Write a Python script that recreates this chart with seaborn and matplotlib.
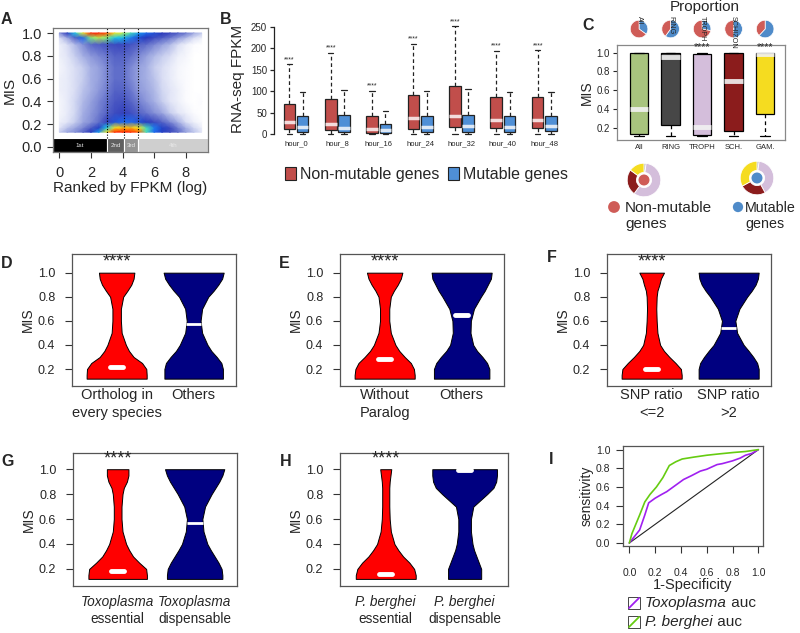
import numpy as np
import pandas as pd
import matplotlib
matplotlib.use("Agg")
import matplotlib.pyplot as plt
import seaborn as sns
from matplotlib.colors import LinearSegmentedColormap
from matplotlib.patches import Rectangle

# ======================= DATA =======================
# Panel A: estimated point density (rows = MIS levels top->bottom, cols = log FPKM)
a_x_centers = [0, 0.5, 1, 1.5, 2, 2.5, 3, 3.5, 4, 4.5, 5, 5.5, 6, 6.5, 7, 7.5, 8, 8.5, 9]
a_y_centers = [1.0, 0.96, 0.9, 0.8, 0.7, 0.6, 0.5, 0.4, 0.3, 0.22, 0.17, 0.13]
a_density = [
    [1.5, 3, 5, 7, 9, 9, 8.5, 7, 6.5, 5.5, 4.5, 4, 3.5, 3, 2.6, 2.2, 1.8, 1.2, 0.8],
    [0.6, 1.2, 2.2, 4, 6, 6.5, 6, 5, 4.8, 4.2, 3.5, 3, 2.5, 2.2, 1.8, 1.4, 1, 0.6, 0.3],
    [0.3, 0.6, 1, 1.5, 2, 2.2, 2.4, 2.6, 2.6, 2.4, 2.1, 1.9, 1.6, 1.3, 1, 0.6, 0.3, 0.1, 0],
    [0.3, 0.5, 0.8, 1.1, 1.4, 1.6, 1.8, 2.1, 2.1, 1.9, 1.6, 1.3, 1, 0.8, 0.6, 0.3, 0.2, 0, 0],
    [0.2, 0.4, 0.6, 0.8, 1.1, 1.3, 1.6, 1.9, 1.9, 1.6, 1.3, 1.1, 0.8, 0.6, 0.4, 0.2, 0.1, 0, 0],
    [0.3, 0.4, 0.6, 0.8, 1.1, 1.3, 1.6, 1.9, 1.9, 1.6, 1.3, 1.1, 0.9, 0.6, 0.4, 0.2, 0.1, 0, 0],
    [0.3, 0.4, 0.6, 0.9, 1.1, 1.4, 1.7, 2.1, 2.1, 1.8, 1.4, 1.2, 1, 0.7, 0.5, 0.3, 0.1, 0, 0],
    [0.2, 0.4, 0.7, 1, 1.3, 1.6, 1.9, 2.3, 2.4, 2.1, 1.7, 1.4, 1.1, 0.8, 0.5, 0.3, 0.1, 0, 0.1],
    [0.2, 0.4, 0.7, 1.1, 1.4, 1.7, 2.1, 2.5, 2.7, 2.5, 2.1, 1.8, 1.5, 1.2, 0.8, 0.5, 0.3, 0.1, 0],
    [0.3, 0.5, 0.8, 1.2, 1.5, 1.9, 2.7, 3.6, 4, 4, 3.6, 3.1, 2.6, 2.1, 1.6, 1.1, 0.6, 0.3, 0.1],
    [0.5, 0.9, 1.2, 1.6, 2.2, 3.2, 5, 7, 7.5, 7.5, 7, 5.5, 4.2, 3.3, 2.5, 1.7, 1.1, 0.7, 0.3],
    [0.8, 1.2, 1.5, 2, 3, 4.5, 7, 9, 9, 9, 8.5, 5.5, 4, 3.2, 2.5, 2, 1.3, 0.9, 0.5],
]
a_quartile_edges = [-0.4, 3.0, 4.1, 4.95, 9.4]
a_quartile_names = ["1st", "2nd", "3rd", "4th"]
a_xticks = [0, 2, 4, 6, 8]
a_yticks = [0.0, 0.2, 0.4, 0.6, 0.8, 1.0]

# Panel B: RNA-seq FPKM box statistics
b_hours = ["hour_0", "hour_8", "hour_16", "hour_24", "hour_32", "hour_40", "hour_48"]
b_non_q1 = [11, 8, 3, 12, 15, 13, 13]
b_non_med = [28, 24, 12, 36, 42, 33, 33]
b_non_q3 = [70, 81, 42, 92, 111, 86, 87]
b_non_hi = [163, 190, 100, 211, 252, 194, 196]
b_mut_q1 = [5, 4, 2, 4, 5, 5, 6]
b_mut_med = [17, 14, 8, 15, 18, 17, 18]
b_mut_q3 = [42, 45, 23, 42, 45, 43, 43]
b_mut_hi = [97, 103, 54, 100, 105, 97, 97]
b_lo = [0, 0, 0, 0, 0, 0, 0]
b_sig = ["****"] * 7
b_yticks = [0, 50, 100, 150, 200, 250]

# Panel C
c_stages = ["All", "RING", "TROPH", "SCH.", "GAM."]
c_q1 = [0.14, 0.23, 0.13, 0.17, 0.35]
c_med = [0.40, 0.95, 0.21, 0.70, 0.98]
c_q3 = [1.0, 1.0, 0.99, 1.0, 1.0]
c_lo = [0.12, 0.12, 0.12, 0.12, 0.12]
c_hi = [1.0, 1.0, 1.0, 1.0, 1.0]
c_sig = ["", "", "****", "", "****"]
c_pie_labels = ["All", "RING", "TROPH", "SCHIZON", ""]
c_pie_mutable = [35, 60, 28, 50, 62]
c_pie_nonmutable = [65, 40, 72, 50, 38]
c_donut_stages = ["RING", "TROPH", "SCH.", "GAM."]
c_donut_nonmutable = [2, 58, 25, 15]
c_donut_mutable = [2, 40, 25, 33]
c_yticks = [0.2, 0.4, 0.6, 0.8, 1.0]

# Panels D-H: violin half-widths at MIS levels
v_levels = [0.12, 0.15, 0.2, 0.25, 0.3, 0.35, 0.4, 0.5, 0.6, 0.7, 0.8, 0.85, 0.9, 0.95, 1.0]
d_red = [0.39, 0.39, 0.385, 0.33, 0.22, 0.16, 0.12, 0.065, 0.055, 0.055, 0.085, 0.14, 0.19, 0.22, 0.23]
d_blue = [0.38, 0.38, 0.38, 0.36, 0.30, 0.23, 0.18, 0.11, 0.09, 0.11, 0.19, 0.26, 0.32, 0.37, 0.39]
e_red = [0.39, 0.39, 0.38, 0.34, 0.26, 0.19, 0.14, 0.08, 0.06, 0.06, 0.08, 0.12, 0.17, 0.21, 0.23]
e_blue = [0.36, 0.36, 0.36, 0.33, 0.27, 0.20, 0.15, 0.115, 0.12, 0.16, 0.25, 0.30, 0.34, 0.38, 0.39]
f_red = [0.39, 0.39, 0.38, 0.31, 0.23, 0.16, 0.11, 0.075, 0.065, 0.06, 0.065, 0.075, 0.10, 0.12, 0.16]
f_blue = [0.39, 0.39, 0.39, 0.37, 0.32, 0.26, 0.195, 0.11, 0.087, 0.14, 0.24, 0.30, 0.35, 0.38, 0.39]
g_red = [0.38, 0.38, 0.37, 0.28, 0.20, 0.15, 0.11, 0.063, 0.05, 0.05, 0.063, 0.08, 0.12, 0.14, 0.14]
g_blue = [0.36, 0.36, 0.35, 0.31, 0.26, 0.21, 0.165, 0.115, 0.10, 0.135, 0.22, 0.27, 0.32, 0.36, 0.385]
h_red = [0.38, 0.38, 0.36, 0.30, 0.22, 0.16, 0.11, 0.065, 0.05, 0.045, 0.045, 0.045, 0.05, 0.06, 0.07]
h_blue = [0.21, 0.21, 0.21, 0.18, 0.15, 0.12, 0.10, 0.08, 0.08, 0.11, 0.285, 0.365, 0.40, 0.41, 0.41]
d_medians = [0.22, 0.57]
e_medians = [0.28, 0.65]
f_medians = [0.20, 0.54]
g_medians = [0.18, 0.57]
h_medians = [0.16, 0.995]
d_labels = [("Ortholog in", "every species"), ("Others", "")]
e_labels = [("Without", "Paralog"), ("Others", "")]
f_labels = [("SNP ratio", "<=2"), ("SNP ratio", ">2")]
g_labels = [("Toxoplasma", "essential"), ("Toxoplasma", "dispensable")]
h_labels = [("P. berghei", "essential"), ("P. berghei", "dispensable")]
v_yticks = [0.2, 0.4, 0.6, 0.8, 1.0]

# Panel I: ROC curves
i_pb_fpr = [0, 0.02, 0.044, 0.08, 0.12, 0.16, 0.21, 0.26, 0.31, 0.36, 0.41, 0.5, 0.6, 0.7, 0.81, 0.9, 1.0]
i_pb_tpr = [0, 0.1, 0.18, 0.3, 0.44, 0.52, 0.6, 0.7, 0.83, 0.87, 0.9, 0.92, 0.94, 0.955, 0.97, 0.98, 1.0]
i_tg_fpr = [0, 0.04, 0.08, 0.12, 0.15, 0.2, 0.25, 0.29, 0.35, 0.42, 0.48, 0.55, 0.6, 0.68, 0.72, 0.8, 0.86, 0.9, 0.95, 1.0]
i_tg_tpr = [0, 0.07, 0.14, 0.3, 0.43, 0.48, 0.52, 0.55, 0.61, 0.68, 0.72, 0.77, 0.79, 0.84, 0.85, 0.88, 0.91, 0.94, 0.96, 1.0]
i_ticks = [0.0, 0.2, 0.4, 0.6, 0.8, 1.0]

# ======================= STYLE =======================
sns.set_theme(style="ticks")
plt.rcParams["font.family"] = ["Liberation Sans", "DejaVu Sans"]
plt.rcParams["axes.linewidth"] = 0.9

RED_B, BLUE_B = "#c14e4b", "#4f8fd6"
RED_P, BLUE_P = "#cf5c57", "#4f8bc9"
STAGE_COLORS = ["#a8c47e", "#474747", "#d4bedb", "#8b1c1c", "#f5dc20"]
DONUT_COLORS = ["#8a8a8a", "#d4bedb", "#8b1c1c", "#f5dc20"]
V_RED, V_BLUE = "#ff0000", "#000080"
FRAME = "#555555"

W, H = 800, 633
fig = plt.figure(figsize=(W / 100, H / 100), dpi=100)


def ax_px(l, t, r, b):
    return fig.add_axes([l / W, 1 - b / H, (r - l) / W, (b - t) / H])


# ======================= PANEL A =======================
axA = ax_px(53, 28, 208, 152)
cmapA = LinearSegmentedColormap.from_list("dens", [
    (0.0, "#ffffff"), (0.06, "#dfe3f6"), (0.12, "#a6b0e4"), (0.22, "#5a68c8"),
    (0.33, "#2633b8"), (0.45, "#1e6cf0"), (0.55, "#18c8f0"), (0.67, "#80f080"),
    (0.78, "#f8e820"), (0.89, "#ff8c00"), (1.0, "#ff2000")])
Z = np.array(a_density)[::-1]
Yc = np.array(a_y_centers)[::-1]
axA.pcolormesh(np.array(a_x_centers), Yc, Z, shading="gouraud", cmap=cmapA, vmin=0, vmax=9,
               rasterized=True)
edges = np.array(a_quartile_edges)
axA.bar(edges[:-1], 0.12, width=np.diff(edges), bottom=-0.045, align="edge",
        color=["#000000", "#606060", "#959595", "#cfcfcf"], edgecolor="white", linewidth=0.8)
for lft, wd, nm in zip(edges[:-1], np.diff(edges), a_quartile_names):
    axA.text(lft + wd / 2, 0.015, nm, ha="center", va="center", fontsize=4.5, color="#e8e8e8")
axA.vlines(edges[1:4], 0.075, 1.044, colors="black", linestyles=(0, (1, 1.5)), lw=0.8)
axA.set_xlim(-0.4, 9.4)
axA.set_ylim(-0.044, 1.044)
axA.set_xticks(a_xticks)
axA.set_yticks(a_yticks)
axA.set_yticklabels([f"{v:.1f}" for v in a_yticks])
axA.tick_params(axis="both", labelsize=10.5, length=4, width=0.8, color="#333")
axA.tick_params(axis="y", pad=4)
axA.tick_params(axis="x", pad=6)
for s in axA.spines.values():
    s.set_color("#777777")
axA.set_ylabel("MIS", fontsize=11, labelpad=3)
axA.set_xlabel("Ranked by FPKM (log)", fontsize=11, labelpad=1)

# ======================= PANEL B =======================
axB = ax_px(274, 22, 565, 136)
pos = np.arange(len(b_hours))
non_stats = [dict(q1=a, med=m, q3=c, whislo=lo, whishi=hi, fliers=[])
             for a, m, c, lo, hi in zip(b_non_q1, b_non_med, b_non_q3, b_lo, b_non_hi)]
mut_stats = [dict(q1=a, med=m, q3=c, whislo=lo, whishi=hi, fliers=[])
             for a, m, c, lo, hi in zip(b_mut_q1, b_mut_med, b_mut_q3, b_lo, b_mut_hi)]
common_b = dict(widths=0.28, patch_artist=True, showfliers=False, manage_ticks=False,
                whiskerprops=dict(color="#222", lw=0.9, linestyle=(0, (3, 2.2))),
                capprops=dict(color="#222", lw=0.9), capwidths=0.13)
axB.bxp(non_stats, positions=pos - 0.16,
        boxprops=dict(facecolor=RED_B, edgecolor="#222", lw=0.9),
        medianprops=dict(color="#f3dcdc", lw=2.5), **common_b)
axB.bxp(mut_stats, positions=pos + 0.16,
        boxprops=dict(facecolor=BLUE_B, edgecolor="#222", lw=0.9),
        medianprops=dict(color="#dde8f5", lw=2.5), **common_b)
for p, hi, s in zip(pos, b_non_hi, b_sig):
    axB.text(p - 0.16, hi + 3, s, ha="center", va="bottom", fontsize=5)
axB.set_xlim(-0.53, 6.5)
axB.set_ylim(-5, 262)
axB.set_xticks(pos)
axB.set_xticklabels(b_hours, fontsize=5.5)
axB.set_yticks(b_yticks)
axB.tick_params(axis="x", length=0, pad=3)
axB.tick_params(axis="y", labelsize=7, length=3, width=0.9, pad=2)
sns.despine(ax=axB, top=True, right=True, bottom=True)
axB.spines["left"].set_bounds(0, 250)
axB.spines["left"].set_color("#222")
axB.set_ylabel("RNA-seq FPKM", fontsize=11, labelpad=4)

# ======================= PANEL C =======================
axC = ax_px(617, 45, 785, 140)
cpos = np.arange(1, len(c_stages) + 1)
c_stats = [dict(q1=a, med=m, q3=c, whislo=lo, whishi=hi, fliers=[])
           for a, m, c, lo, hi in zip(c_q1, c_med, c_q3, c_lo, c_hi)]
resC = axC.bxp(c_stats, positions=cpos, widths=0.58, patch_artist=True, showfliers=False,
               manage_ticks=False, boxprops=dict(edgecolor="black", lw=0.9),
               whiskerprops=dict(color="black", lw=0.9, linestyle=(0, (3, 2.5))),
               capprops=dict(color="black", lw=0.9), capwidths=0.3,
               medianprops=dict(color="#f2f2f2", lw=3.5, alpha=0.9))
for box, col in zip(resC["boxes"], STAGE_COLORS):
    box.set_facecolor(col)
for p, s in zip(cpos, c_sig):
    if s:
        axC.text(p, 1.0, s, ha="center", va="bottom", fontsize=7.5)
axC.set_xlim(0.3, 5.63)
axC.set_ylim(0.076, 1.08)
axC.set_xticks(cpos)
axC.set_xticklabels(c_stages, fontsize=5.5)
axC.set_yticks(c_yticks)
axC.set_yticklabels([f"{v:.1f}" for v in c_yticks])
axC.tick_params(axis="x", length=0, pad=3)
axC.tick_params(axis="y", labelsize=7, length=3, width=0.8, pad=2)
for s in axC.spines.values():
    s.set_color("#888888")
axC.set_ylabel("MIS", fontsize=10, labelpad=2)

# pies above C, aligned with boxes
for p, mut, non in zip(cpos, c_pie_mutable, c_pie_nonmutable):
    cx = axC.transData.transform((p, 0))[0]
    pa = ax_px(cx - 11, 18, cx + 11, 40)
    pa.pie([mut, non], colors=[BLUE_P, RED_P], startangle=90, counterclock=False,
           wedgeprops=dict(edgecolor="white", linewidth=0.5))
    pa.set_aspect("equal")

# donuts below C
for (cx, cy), vals, inner in [((644, 180), c_donut_nonmutable, RED_P),
                              ((757, 178), c_donut_mutable, BLUE_P)]:
    da = ax_px(cx - 21, cy - 21, cx + 21, cy + 21)
    da.pie(vals, colors=DONUT_COLORS, startangle=90, counterclock=False, radius=1.0,
           wedgeprops=dict(width=0.55, edgecolor="white", linewidth=0.6))
    da.pie([1], colors=[inner], radius=0.36, wedgeprops=dict(edgecolor="white", linewidth=0.8))
    da.set_aspect("equal")


# ======================= PANELS D-H =======================
def violin_panel(l, t, r, b, ylim, shapes, medians, labels, off1, off2, italic=False, lfs=10.5):
    ax = ax_px(l, t, r, b)
    lv = np.array(v_levels)
    for i, (w, col, med) in enumerate(zip(shapes, [V_RED, V_BLUE], medians)):
        c = i + 1
        w = np.array(w)
        ax.fill_betweenx(lv, c - w, c + w, facecolor=col, edgecolor="black", lw=0.7)
        wl = np.interp(med, lv, w)
        if wl > 0.13:
            ax.plot([c - 0.085, c + 0.085], [med, med], color="white", lw=3.5,
                    solid_capstyle="round")
        else:
            ax.plot([c - wl * 0.98, c + wl * 0.98], [med, med], color="white", lw=2,
                    solid_capstyle="butt")
    ax.text(1, 1.015, "****", ha="center", va="bottom", fontsize=13)
    ax.set_xlim(0.42, 2.55)
    ax.set_ylim(*ylim)
    ax.set_xticks([])
    ax.set_yticks(v_yticks)
    ax.set_yticklabels([f"{v:.1f}" for v in v_yticks])
    ax.tick_params(axis="y", labelsize=9, length=5, width=0.8, pad=7, color="#333")
    for s in ax.spines.values():
        s.set_color(FRAME)
    ax.set_ylabel("MIS", fontsize=10, labelpad=2)
    for i, (l1, l2) in enumerate(labels):
        ax.annotate(l1, xy=(i + 1, 0), xycoords=("data", "axes fraction"),
                    xytext=(0, -off1), textcoords="offset points", ha="center", va="center",
                    fontsize=lfs, style="italic" if italic else "normal")
        if l2:
            ax.annotate(l2, xy=(i + 1, 0), xycoords=("data", "axes fraction"),
                        xytext=(0, -off2), textcoords="offset points", ha="center",
                        va="center", fontsize=lfs)
    return ax


violin_panel(72, 254, 236, 386, (0.059, 1.155), [d_red, d_blue], d_medians, d_labels, 6.8, 19.5)
violin_panel(340, 254, 504, 386, (0.059, 1.155), [e_red, e_blue], e_medians, e_labels, 6.8, 19.5)
violin_panel(607, 254, 771, 386, (0.059, 1.155), [f_red, f_blue], f_medians, f_labels, 6.8, 19.5)
violin_panel(73, 453, 237, 586, (0.063, 1.13), [g_red, g_blue], g_medians, g_labels, 11.5, 23.5,
             italic=True, lfs=9.8)
violin_panel(340, 453, 508, 586, (0.063, 1.13), [h_red, h_blue], h_medians, h_labels, 11.5, 23.5,
             italic=True, lfs=9.8)

# ======================= PANEL I =======================
axI = ax_px(623, 446, 763, 546)
axI.plot([0, 1], [0, 1], color="#222", lw=0.8)
sns.lineplot(x=i_tg_fpr, y=i_tg_tpr, sort=False, estimator=None, color="#a020f0", lw=1.2, ax=axI)
sns.lineplot(x=i_pb_fpr, y=i_pb_tpr, sort=False, estimator=None, color="#66cc11", lw=1.2, ax=axI)
axI.set_xlim(-0.049, 1.036)
axI.set_ylim(-0.032, 1.039)
axI.set_xticks(i_ticks)
axI.set_yticks(i_ticks)
axI.set_xticklabels([f"{v:.1f}" for v in i_ticks])
axI.set_yticklabels([f"{v:.1f}" for v in i_ticks])
axI.tick_params(axis="both", labelsize=7.5, length=5, width=0.8, color="#333")
axI.tick_params(axis="x", pad=11)
axI.tick_params(axis="y", pad=4)
for s in axI.spines.values():
    s.set_color(FRAME)
axI.set_ylabel("sensitivity", fontsize=10, labelpad=2)
axI.set_xlabel("1-Specificity", fontsize=10.5, labelpad=0)

# ======================= OVERLAY (labels, legends) =======================
ov = fig.add_axes([0, 0, 1, 1])
ov.set_xlim(0, W)
ov.set_ylim(H, 0)
ov.axis("off")

letter_kw = dict(fontsize=11.5, fontweight="bold", ha="left", va="center",
                 family=["Liberation Sans Narrow", "Liberation Sans", "DejaVu Sans"])
for txt, x, y in [("A", 1, 20), ("B", 220, 20), ("C", 582, 26), ("D", 1, 263), ("E", 279, 263),
                  ("F", 547, 257), ("G", 1, 462), ("H", 280, 462), ("I", 549, 459)]:
    ov.text(x, y, txt, **letter_kw)

# B legend
ov.add_patch(Rectangle((285, 167), 11, 13, facecolor=RED_B, edgecolor="#222", lw=0.8))
ov.text(300, 174, "Non-mutable genes", fontsize=11.5, va="center", ha="left")
ov.add_patch(Rectangle((448, 167), 11, 13, facecolor=BLUE_B, edgecolor="#222", lw=0.8))
ov.text(463, 174, "Mutable genes", fontsize=11.5, va="center", ha="left")

# C title, pie labels, legend
ov.text(705, 7, "Proportion", fontsize=11, ha="center", va="center")
for p, lab in zip(cpos, c_pie_labels):
    if lab:
        cx = axC.transData.transform((p, 0))[0]
        ov.text(cx, 16, lab, rotation=-90, fontsize=5.2, ha="center", va="top")
ov.scatter([614], [207], s=72, color=RED_P, edgecolors="none")
ov.text(625, 216, "Non-mutable\ngenes", fontsize=11, va="center", ha="left", linespacing=1.15)
ov.scatter([738], [207], s=55, color=BLUE_P, edgecolors="none")
ov.text(745, 216, "Mutable\ngenes", fontsize=10.3, va="center", ha="left", linespacing=1.2)

# I legend
for y, col, name in [(603, "#a020f0", "Toxoplasma"), (622, "#66cc11", "P. berghei")]:
    ov.add_patch(Rectangle((628, y - 6), 12, 12, facecolor="white", edgecolor="#444", lw=0.7))
    ov.plot([629, 639], [y + 5, y - 5], color=col, lw=1.3)
    t = ov.text(645, y, name, style="italic", fontsize=11, va="center", ha="left")
    ov.annotate(" auc", xy=(1, 0.5), xycoords=t, va="center", ha="left", fontsize=11)

fig.savefig("out.png", dpi=100)
